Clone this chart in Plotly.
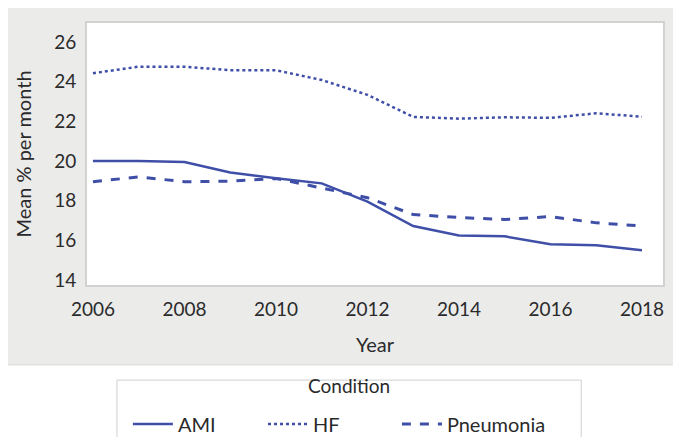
import plotly.graph_objects as go

# data
years = [2006, 2007, 2008, 2009, 2010, 2011, 2012, 2013, 2014, 2015, 2016, 2017, 2018]
ami = [20.0, 20.0, 19.95, 19.42, 19.13, 18.87, 17.95, 16.72, 16.25, 16.2, 15.8, 15.75, 15.5]
hf = [24.42, 24.75, 24.75, 24.57, 24.57, 24.08, 23.33, 22.22, 22.13, 22.2, 22.17, 22.4, 22.23]
pneumonia = [18.95, 19.2, 18.95, 18.98, 19.12, 18.63, 18.15, 17.3, 17.15, 17.05, 17.2, 16.88, 16.72]
y_ticks = [14, 16, 18, 20, 22, 24, 26]
x_ticks = [2006, 2008, 2010, 2012, 2014, 2016, 2018]

blue = "#3F4FA8"
font = "Lato"

fig = go.Figure()
fig.add_trace(go.Scatter(x=years, y=ami, name="AMI", mode="lines", legend="legend",
                         showlegend=True,
                         line=dict(color=blue, width=2.5, dash="solid")))
fig.add_trace(go.Scatter(x=years, y=hf, name="HF", mode="lines", legend="legend2",
                         showlegend=True,
                         line=dict(color=blue, width=2.5, dash="dot")))
fig.add_trace(go.Scatter(x=years, y=pneumonia, name="Pneumonia", mode="lines", legend="legend3",
                         showlegend=True,
                         line=dict(color=blue, width=3, dash="dash")))

# grey panel behind the plot area
fig.add_shape(type="rect", xref="paper", yref="paper",
              x0=-0.139, x1=1.06, y0=-0.305, y1=1.061,
              fillcolor="#EBEBEA", line=dict(color="#DADADA", width=1),
              layer="below")
fig.add_shape(type="rect", xref="paper", yref="paper",
              x0=0, x1=1, y0=0, y1=1,
              fillcolor="white", line=dict(width=0), layer="below")
# legend frame (runs off the bottom edge as in the original)
fig.add_shape(type="rect", xref="paper", yref="paper",
              x0=0.052, x1=0.858, y0=-0.7, y1=-0.363,
              fillcolor="white", line=dict(color="#CFCFCF", width=1),
              layer="below")
fig.add_annotation(text="Condition", xref="paper", yref="paper",
                   x=0.455, y=-0.435, showarrow=False,
                   font=dict(size=19))

# one legend per condition so the entries sit where the original puts them
leg = dict(orientation="h", xanchor="left", y=-0.5305, yanchor="middle",
           bgcolor="rgba(0,0,0,0)", borderwidth=0, itemwidth=40,
           font=dict(size=20))

# page body has an 8px margin, so the figure is 8px smaller than the window
fig.update_layout(
    width=673, height=429,
    showlegend=True,
    margin=dict(l=79, r=18, t=15, b=152, autoexpand=False),
    paper_bgcolor="white",
    plot_bgcolor="white",
    font=dict(family=font, size=17, color="#2A2A2A"),
    xaxis=dict(range=[2005.87, 2018.46], tickvals=x_ticks, showgrid=False, zeroline=False,
               ticks="outside", ticklen=6, tickcolor="rgba(0,0,0,0)",
               tickfont=dict(size=19),
               showline=True, mirror=True, linecolor="#D2D2D2", linewidth=2,
               automargin=False, title=dict(text="Year", standoff=19)),
    yaxis=dict(range=[13.75, 26.95], tickvals=y_ticks, showgrid=False, zeroline=False,
               ticks="outside", ticklen=5, tickcolor="rgba(0,0,0,0)",
               tickfont=dict(size=19),
               showline=True, mirror=True, linecolor="#D2D2D2", linewidth=2,
               automargin=False, title=dict(text="Mean % per month", standoff=17)),
    legend=dict(leg, x=0.071),
    legend2=dict(leg, x=0.3056),
    legend3=dict(leg, x=0.538),
)

fig.write_html("out.html")
